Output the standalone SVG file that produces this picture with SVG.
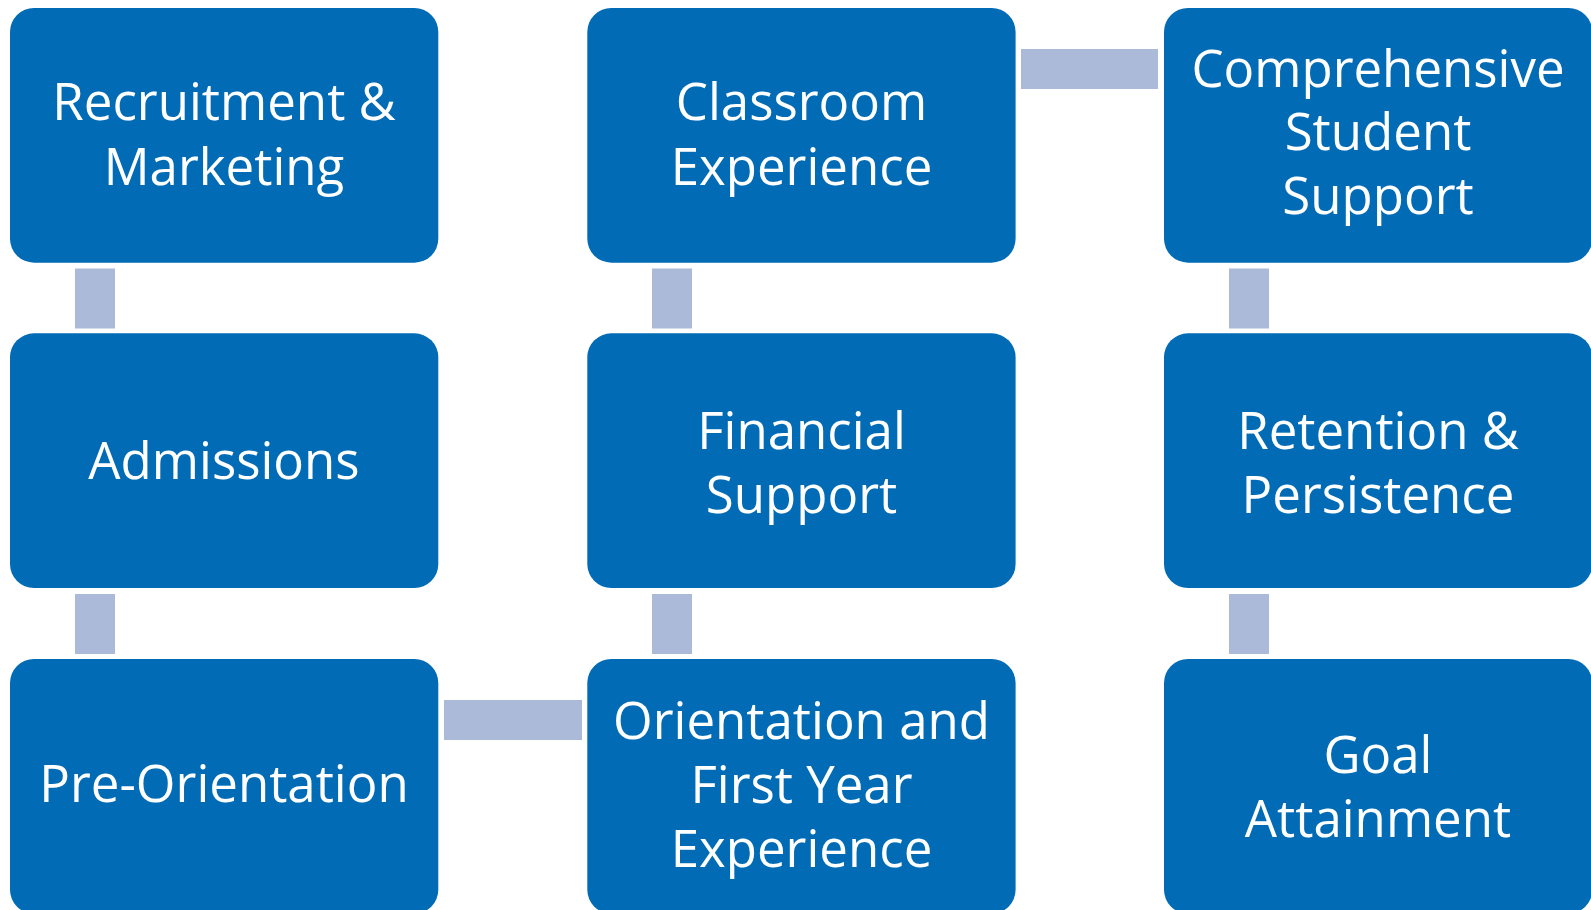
<svg xmlns="http://www.w3.org/2000/svg" width="1591" height="910" viewBox="0 0 1591 910">
<style>
.box{fill:#016BB6}
.con{fill:#ABBAD9}
.t{font-family:"Open Sans","Liberation Sans",sans-serif;font-size:51px;fill:#FFFFFF;text-anchor:middle}
</style>
<rect width="1591" height="910" fill="#FFFFFF"/>
<g id="connectors">
<rect class="con" x="75" y="268.5" width="40" height="60"/>
<rect class="con" x="75" y="594" width="40" height="60"/>
<rect class="con" x="444" y="700" width="138" height="40"/>
<rect class="con" x="652" y="594" width="40" height="60"/>
<rect class="con" x="652" y="268.5" width="40" height="60"/>
<rect class="con" x="1021" y="49" width="137" height="40"/>
<rect class="con" x="1229" y="268.5" width="40" height="60"/>
<rect class="con" x="1229" y="594" width="40" height="60"/>
</g>
<g id="n1"><rect class="box" x="10" y="8" width="428.3" height="254.7" rx="24"/>
<text class="t" x="224" y="120">Recruitment &amp;</text><text class="t" x="224" y="185">Marketing</text></g>
<g id="n2"><rect class="box" x="10" y="333.3" width="428.3" height="254.7" rx="24"/>
<text class="t" x="224" y="479">Admissions</text></g>
<g id="n3"><rect class="box" x="10" y="659" width="428.3" height="254.7" rx="24"/>
<text class="t" x="224" y="802">Pre-Orientation</text></g>
<g id="n4"><rect class="box" x="587.3" y="659" width="428.3" height="254.7" rx="24"/>
<text class="t" x="801.5" y="738.5">Orientation and</text><text class="t" x="801.5" y="802.5">First Year</text><text class="t" x="801.5" y="866.5">Experience</text></g>
<g id="n5"><rect class="box" x="587.3" y="333.3" width="428.3" height="254.7" rx="24"/>
<text class="t" x="801.5" y="448.5">Financial</text><text class="t" x="801.5" y="512.5">Support</text></g>
<g id="n6"><rect class="box" x="587.3" y="8" width="428.3" height="254.7" rx="24"/>
<text class="t" x="801.5" y="120">Classroom</text><text class="t" x="801.5" y="185">Experience</text></g>
<g id="n7"><rect class="box" x="1164" y="8" width="428.3" height="254.7" rx="24"/>
<text class="t" x="1378" y="87">Comprehensive</text><text class="t" x="1378" y="150.3">Student</text><text class="t" x="1378" y="213.7">Support</text></g>
<g id="n8"><rect class="box" x="1164" y="333.3" width="428.3" height="254.7" rx="24"/>
<text class="t" x="1378" y="448.5">Retention &amp;</text><text class="t" x="1378" y="512.5">Persistence</text></g>
<g id="n9"><rect class="box" x="1164" y="659" width="428.3" height="254.7" rx="24"/>
<text class="t" x="1378" y="773">Goal</text><text class="t" x="1378" y="837">Attainment</text></g>
</svg>
